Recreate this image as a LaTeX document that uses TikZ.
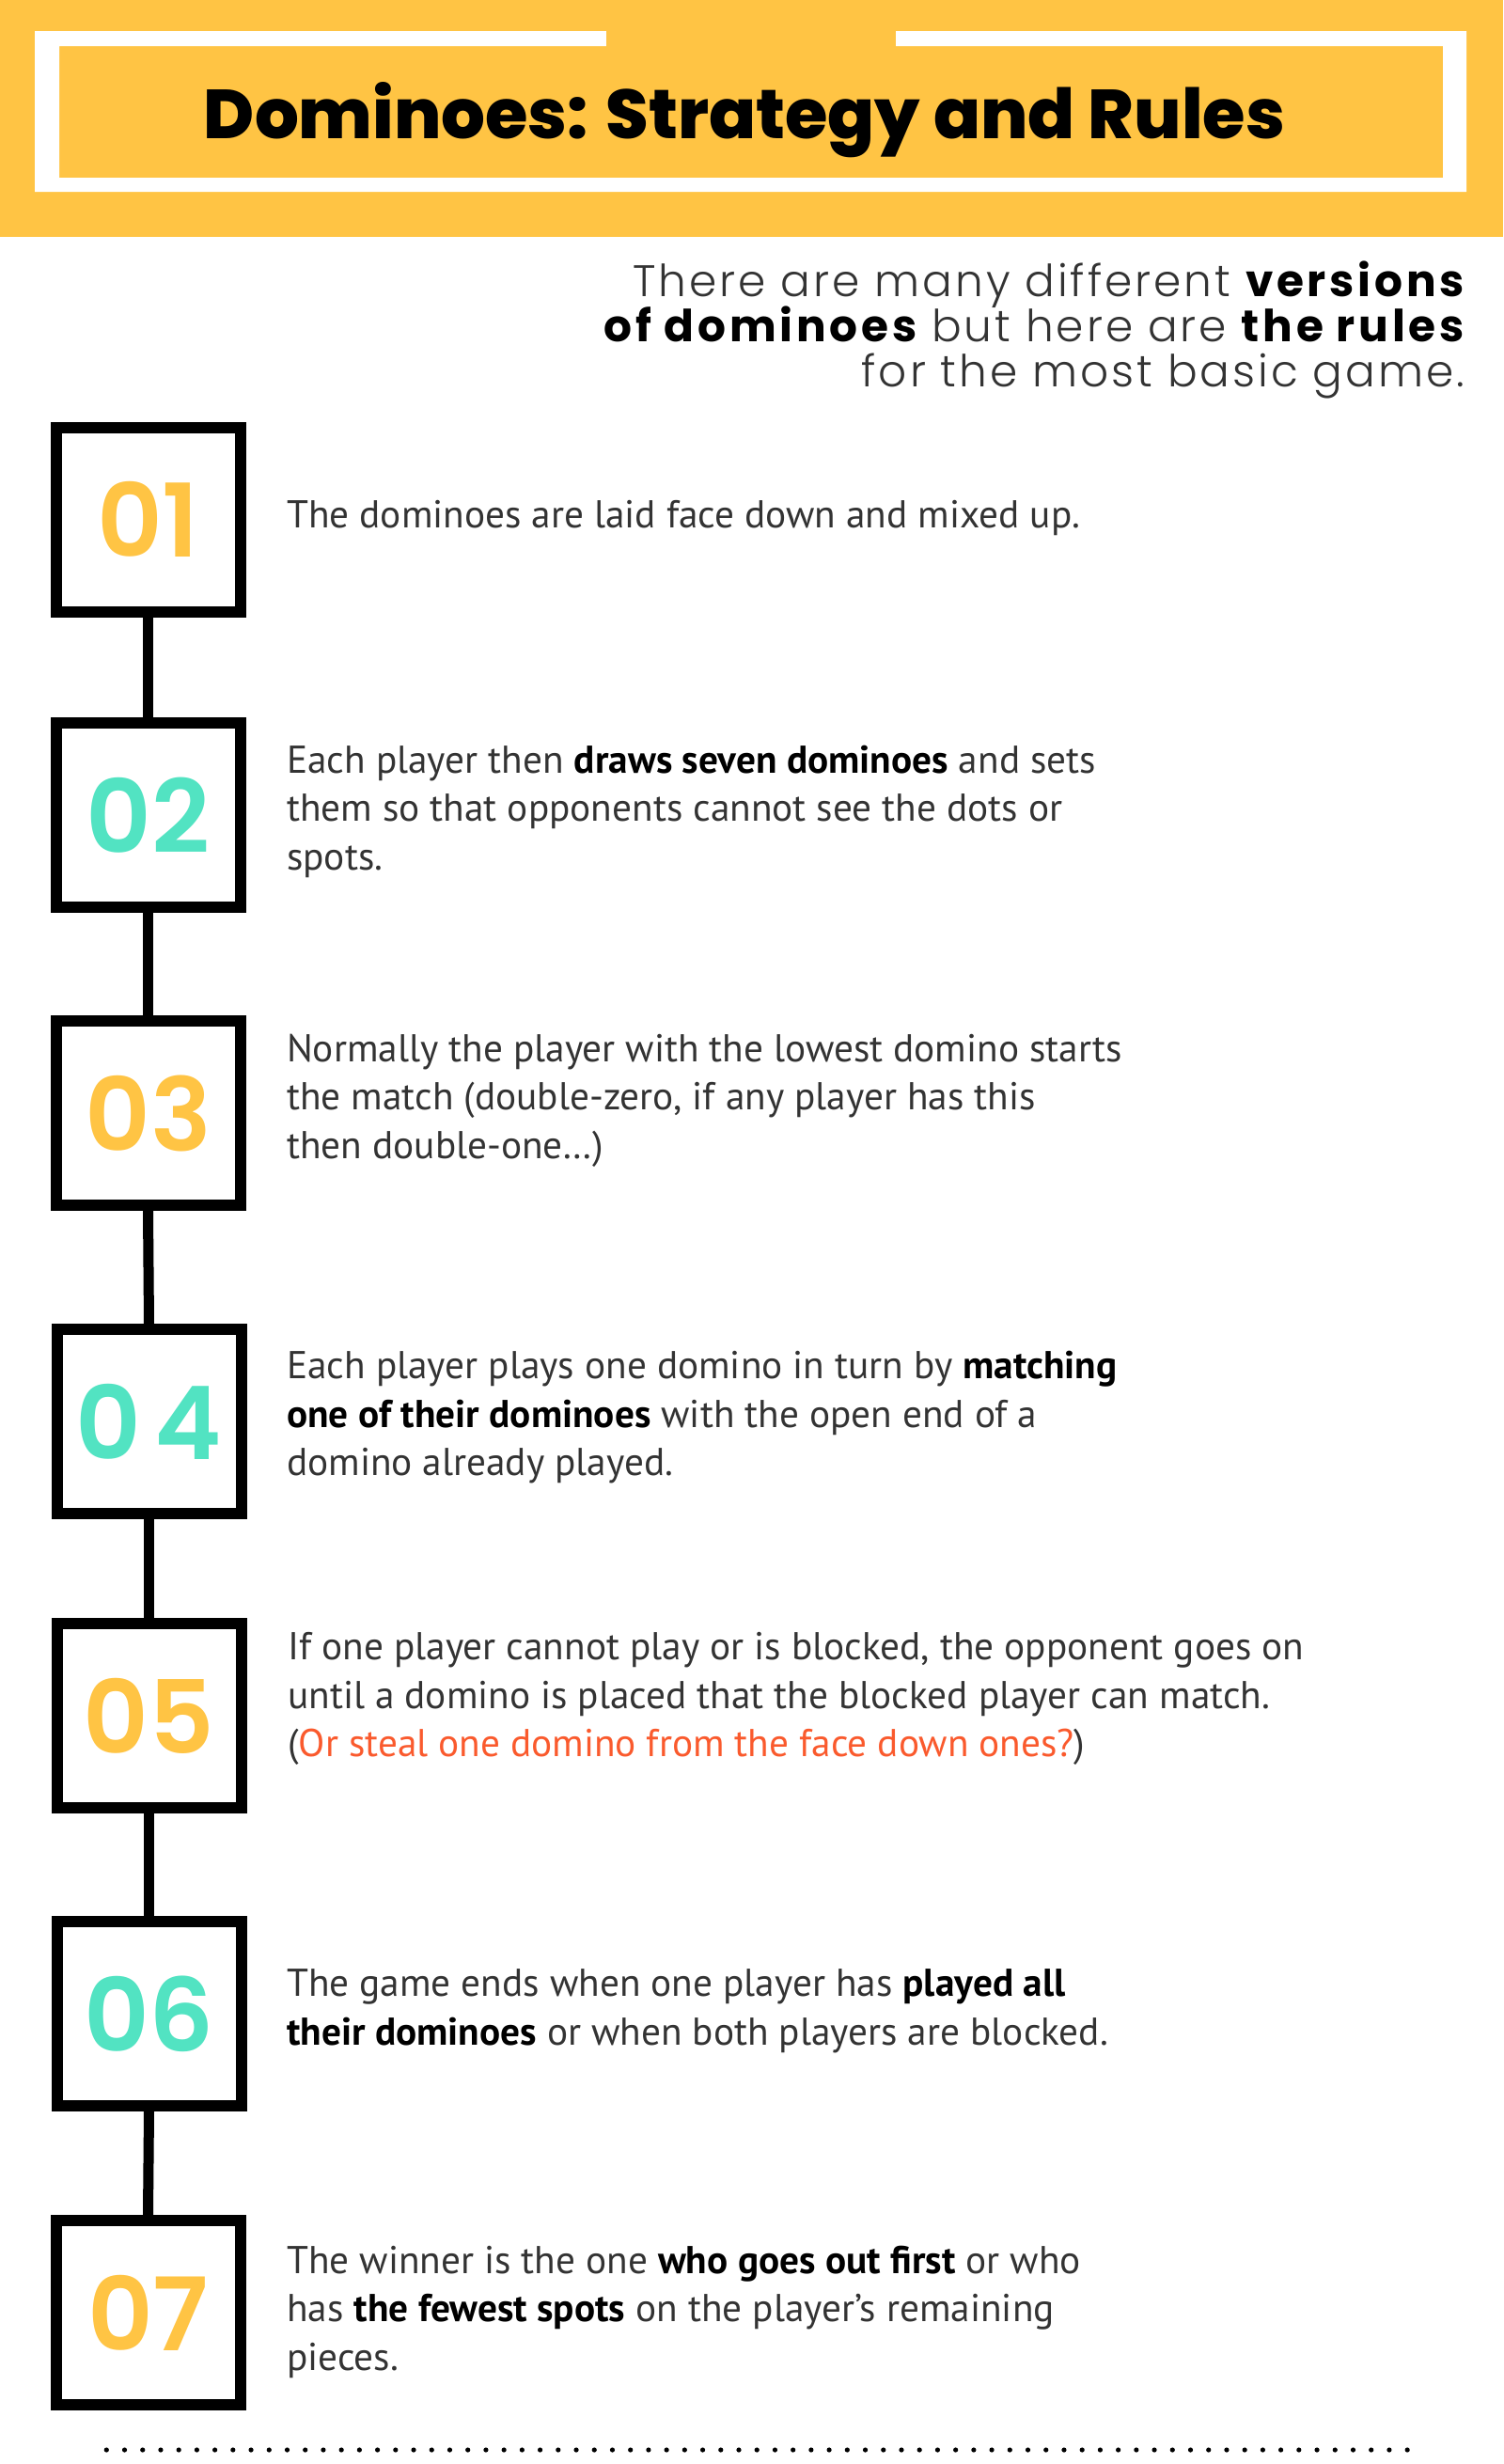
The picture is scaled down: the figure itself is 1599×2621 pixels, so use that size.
\documentclass[tikz,border=0pt]{standalone}
\usepackage{fontspec}
\usepackage{graphicx}
\setmainfont{PT Sans}
\newfontfamily\pop{Poppins}
\newfontfamily\popsp{Poppins}[LetterSpace=8]
\IfFontExistsTF{Poppins ExtraBold}{\newfontfamily\popxb{Poppins ExtraBold}}{\newcommand\popxb{\pop\bfseries}}
\IfFontExistsTF{Poppins SemiBold}{\newfontfamily\popsb{Poppins SemiBold}}{\newcommand\popsb{\pop\bfseries}}
\IfFontExistsTF{Poppins Light}{\newfontfamily\popl{Poppins Light}[LetterSpace=6.3]}{\newcommand\popl{\popsp}}
\definecolor{ylw}{HTML}{FFC444}
\definecolor{teal}{HTML}{52E3C2}
\definecolor{org}{HTML}{FA5A2D}
\definecolor{txt}{HTML}{333333}
\newcommand\subb[1]{{\popsp\bfseries\color{black}#1}}
\newcommand\bkb[1]{{\bfseries\color{black}#1}}
\begin{document}
\begin{tikzpicture}[x=1pt,y=-1pt,
  boxs/.style={draw=black, fill=white, line width=12pt, minimum width=196pt, minimum height=196pt, inner sep=0pt},
  conn/.style={draw=black, line width=11pt},
  num/.style={font=\popsb\fontsize{108}{108}\selectfont, inner sep=0pt},
  body/.style={anchor=base west, inner sep=0pt, text=txt, font=\fontsize{41.3}{48}\selectfont},
  sub/.style={anchor=base east, inner sep=0pt, text=txt, font=\popl\fontsize{47}{56}\selectfont}]
\useasboundingbox (0,0) rectangle (1599,2621);
\fill[white] (0,0) rectangle (1599,2621);
% header
\fill[ylw] (0,0) rectangle (1599,252);
\fill[white, even odd rule] (37,33) rectangle (1560,204) (63,49) rectangle (1535,189);
\fill[ylw] (645,31) rectangle (953,50);
\node[anchor=base, inner sep=0pt] (title) at (792,147) {\resizebox{1150pt}{!}{\popxb Dominoes: Strategy and Rules}};
% subtitle
\node[sub] (s1) at (1558,315) {There are many different \subb{versions}};
\node[sub] (s2) at (1558,363) {\subb{of dominoes} but here are \subb{the rules}};
\node[sub] (s3) at (1558,411) {for the most basic game.};
% boxes
\node[boxs] (b1) at (157.5,552.5) {};
\node[boxs] (b2) at (157.5,867) {};
\node[boxs] (b3) at (157.5,1184) {};
\node[boxs] (b4) at (158.5,1512) {};
\node[boxs] (b5) at (158.5,1825) {};
\node[boxs] (b6) at (158.5,2142) {};
\node[boxs] (b7) at (157.5,2460) {};
\draw[conn] (b1.south) -- (b2.north);
\draw[conn] (b2.south) -- (b3.north);
\draw[conn] (b3.south) -- (b4.north);
\draw[conn] (b4.south) -- (b5.north);
\draw[conn] (b5.south) -- (b6.north);
\draw[conn] (b6.south) -- (b7.north);
\node[num, text=ylw] (n1) at (b1.center) {01};
\node[num, text=teal] (n2) at (b2.center) {02};
\node[num, text=ylw] (n3) at (b3.center) {03};
\node[num, text=teal] (n4) at (b4.center) {0\hspace{14pt}4};
\node[num, text=ylw] (n5) at (b5.center) {05};
\node[num, text=teal] (n6) at (b6.center) {06};
\node[num, text=ylw] (n7) at (b7.center) {07};
% texts
\node[body] (t1a) at (305,561) {The dominoes are laid face down and mixed up.};
\node[body] (t2a) at (305,822) {Each player then \bkb{draws seven dominoes} and sets};
\node[body] (t2b) at (305,873) {them so that opponents cannot see the dots or};
\node[body] (t2c) at (305,925) {spots.};
\node[body] (t3a) at (305,1129) {Normally the player with the lowest domino starts};
\node[body] (t3b) at (305,1180) {the match (double-zero, if any player has this};
\node[body] (t3c) at (305,1232) {then double-one…)};
\node[body] (t4a) at (305,1466) {Each player plays one domino in turn by \bkb{matching}};
\node[body] (t4b) at (305,1518) {\bkb{one of their dominoes} with the open end of a};
\node[body] (t4c) at (305,1569) {domino already played.};
\node[body] (t5a) at (306,1765) {If one player cannot play or is blocked, the opponent goes on};
\node[body] (t5b) at (306,1817) {until a domino is placed that the blocked player can match.};
\node[body] (t5c) at (306,1868) {(\textcolor{org}{Or steal one domino from the face down ones?})};
\node[body] (t6a) at (305,2123) {The game ends when one player has \bkb{played all}};
\node[body] (t6b) at (305,2175) {\bkb{their dominoes} or when both players are blocked.};
\node[body] (t7a) at (305,2418) {The winner is the one \bkb{who goes out first} or who};
\node[body] (t7b) at (305,2469) {has \bkb{the fewest spots} on the player's remaining};
\node[body] (t7c) at (305,2521) {pieces.};
% dotted rule
\foreach \i in {0,...,72} \fill[black] (113.3+19.22*\i,2606) circle (2.6);
\end{tikzpicture}
\end{document}
